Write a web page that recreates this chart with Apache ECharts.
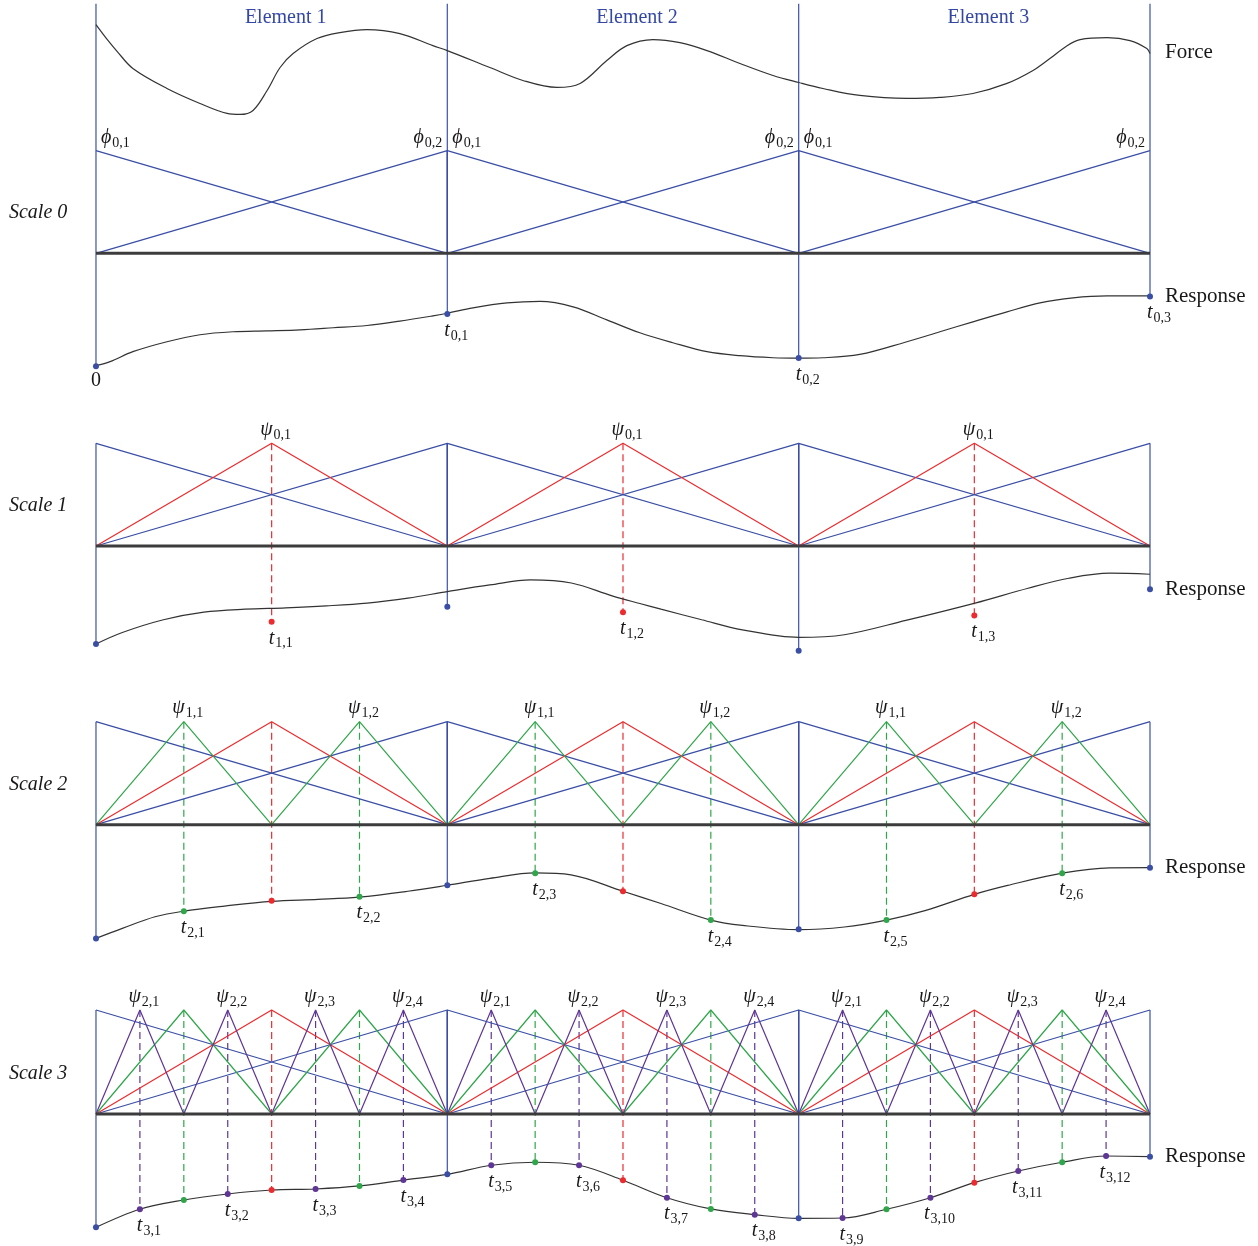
<!DOCTYPE html>
<html lang="en">
<head>
<meta charset="UTF-8">
<title>Scale elements</title>
<script src="https://cdn.jsdelivr.net/npm/echarts@6/dist/echarts.min.js"></script>
<style>
    html,body{margin:0;padding:0;background:#fff;}
    #chart{width:1258px;height:1246px;}
</style>
</head>
<body>
<div id="chart"></div>
<script>
// labels
var elements = ['Element 1', 'Element 2', 'Element 3'];
var scaleNames = ['Scale 0', 'Scale 1', 'Scale 2', 'Scale 3'];

// force curve above scale 0 (x in elements, y in hat heights)
var force = [[0,2.226],[0.03,2.09],[0.06,1.967],[0.105,1.8],[0.202,1.605],[0.296,1.459],[0.373,1.362],[0.41,1.352],
    [0.447,1.391],[0.487,1.585],[0.524,1.809],[0.561,1.945],[0.629,2.091],[0.694,2.149],[0.771,2.178],
    [0.865,2.139],[0.959,2.022],[1.0,1.974],[1.121,1.809],[1.215,1.683],[1.312,1.615],[1.378,1.654],
    [1.454,1.877],[1.511,2.022],[1.585,2.081],[1.662,2.051],[1.739,1.974],[1.833,1.848],[1.927,1.731],
    [2.0,1.663],[2.069,1.605],[2.174,1.537],[2.308,1.508],[2.402,1.518],[2.496,1.556],[2.593,1.654],
    [2.667,1.78],[2.715,1.896],[2.764,2.022],[2.801,2.081],[2.878,2.1],[2.943,2.071],[2.991,1.993],[3.0,1.945]];

// response curves (below each axis)
var response0 = [[0,-1.094],[0.04,-1.055],[0.105,-0.958],[0.202,-0.861],[0.296,-0.793],[0.39,-0.764],
    [0.487,-0.755],[0.581,-0.745],[0.675,-0.725],[0.771,-0.703],[0.865,-0.66],[0.959,-0.609],[1.0,-0.584],
    [1.073,-0.531],[1.17,-0.483],[1.264,-0.468],[1.358,-0.521],[1.454,-0.648],[1.548,-0.774],[1.642,-0.871],
    [1.739,-0.958],[1.833,-0.997],[1.927,-1.017],[2.0,-1.021],[2.069,-1.017],[2.174,-0.985],[2.308,-0.861],
    [2.402,-0.764],[2.496,-0.667],[2.593,-0.57],[2.687,-0.483],[2.781,-0.434],[2.878,-0.415],[3.0,-0.415]];
var response1 = [[0,-0.954],[0.075,-0.842],[0.192,-0.718],[0.307,-0.644],[0.424,-0.615],[0.54,-0.602],
    [0.656,-0.583],[0.772,-0.556],[0.888,-0.508],[1.0,-0.444],[1.121,-0.379],[1.237,-0.33],[1.353,-0.36],
    [1.469,-0.485],[1.548,-0.56],[1.608,-0.615],[1.724,-0.718],[1.84,-0.816],[2.0,-0.89],[2.13,-0.864],
    [2.305,-0.725],[2.502,-0.556],[2.653,-0.411],[2.769,-0.314],[2.886,-0.265],[3.0,-0.275]];
var response2 = [[0,-1.104],[0.075,-1.007],[0.168,-0.894],[0.25,-0.839],[0.366,-0.79],[0.5,-0.744],
    [0.632,-0.725],[0.748,-0.703],[0.888,-0.646],[1.0,-0.588],[1.121,-0.521],[1.25,-0.468],[1.352,-0.487],
    [1.5,-0.646],[1.608,-0.765],[1.75,-0.926],[1.84,-0.978],[2.0,-1.019],[2.13,-0.993],[2.25,-0.926],
    [2.362,-0.832],[2.5,-0.676],[2.595,-0.589],[2.754,-0.468],[2.886,-0.419],[3.0,-0.417]];

// sampled response points t (evenly spaced, 2^s per element)
var points0 = [-1.10, -0.59, -1.02, -0.42];
var points1 = [-0.954, -0.738, -0.592, -0.644, -1.02, -0.677, -0.42];
var points2 = [-1.104, -0.841, -0.738, -0.699, -0.588, -0.472, -0.646, -0.926, -1.016, -0.926, -0.676, -0.472, -0.417];
var points3 = [-1.09, -0.916, -0.827, -0.769, -0.731, -0.721, -0.692, -0.635, -0.58, -0.493, -0.464, -0.493, -0.637,
    -0.805, -0.913, -0.968, -1.003, -1.0, -0.916, -0.805, -0.66, -0.548, -0.464, -0.404, -0.41];

var samples = [points0, points1, points2, points3];
var curves = [response0, response1, response2, null];

// panel layout: axis pixel row, pixels per unit, y range
var panels = [
    {base: 253.3, unit: 102.7, ymin: -1.5, ymax: 2.45},
    {base: 546, unit: 102.7, ymin: -1.3, ymax: 1.4},
    {base: 824.7, unit: 103, ymin: -1.3, ymax: 1.4},
    {base: 1114, unit: 104, ymin: -1.25, ymax: 1.3}
];

var colors = ['#3a4ea6', '#ec2b2e', '#2fa64a', '#5f3595'];
var vColor = '#4a5fb2';
var ink = '#1a1718';
var serif = 'Liberation Serif';

var rich = {
    m: {fontFamily: serif, fontStyle: 'italic', fontSize: 20, color: ink},
    n: {fontFamily: serif, fontSize: 20, color: ink},
    s: {fontFamily: serif, fontSize: 14, color: ink, padding: [11, 0, 0, 1]}
};

var chart = echarts.init(document.getElementById('chart'), null, {renderer: 'canvas'});

var grids = [], xAxes = [], yAxes = [], series = [];
panels.forEach(function(p, i){
    grids.push({left: 0, right: 0, top: p.base - p.ymax * p.unit, height: (p.ymax - p.ymin) * p.unit});
    xAxes.push({gridIndex: i, type: 'value', min: -0.2732, max: 3.3074, show: false});
    yAxes.push({gridIndex: i, type: 'value', min: p.ymin, max: p.ymax, show: false});
});

function seg(p, pts, color, width, dashed, z, smooth){
    series.push({
        type: 'line', xAxisIndex: p, yAxisIndex: p, data: pts, symbol: 'none',
        silent: true, smooth: smooth || false, z: z || 2,
        lineStyle: {color: color, width: width, type: dashed ? [7, 4] : 'solid', opacity: 1}
    });
}

function levelOf(i, s){
    var n = Math.pow(2, s);
    if (i % n === 0) return 0;
    var tz = 0;
    while (i % 2 === 0) { i = i / 2; tz++; }
    return s - tz;
}

function buildPanel(s){
    var n = Math.pow(2, s), step = 1 / n, vals = samples[s];
    var upper = s === 0 ? 2.43 : 1;

    // element boundaries
    for (var e = 0; e <= 3; e++) seg(s, [[e, upper], [e, vals[e * n]]], vColor, 1.3, false, 3);

    // dashed drop lines from peaks
    for (var i = 0; i < vals.length; i++){
        var l = levelOf(i, s);
        if (l > 0) seg(s, [[i * step, 1], [i * step, vals[i]]], colors[l], 1.2, true, 2);
    }

    // response curve
    var c = curves[s] || vals.map(function(v, k){ return [k * step, v]; });
    seg(s, c, '#333', 1.2, false, 3, 0.35);
    if (s === 0) seg(0, force, '#333', 1.2, false, 3, 0.35);

    // hat functions
    seg(s, [[0,1],[1,0],[1,1],[2,0],[2,1],[3,0]], colors[0], 1.2, false, 4);
    seg(s, [[0,0],[1,1],[1,0],[2,1],[2,0],[3,1]], colors[0], 1.2, false, 4);
    for (var lv = 1; lv <= s; lv++){
        var h = 1 / Math.pow(2, lv), zig = [];
        for (var k = 0; k * h <= 3 + 1e-9; k++) zig.push([k * h, k % 2]);
        seg(s, zig, colors[lv], 1.2, false, 4 + lv);
    }

    // axis
    seg(s, [[0,0],[3,0]], '#3c3c3c', 3, false, 9);

    // sample points with labels
    var dots = [], cnt = 0;
    vals.forEach(function(v, i){
        var l = levelOf(i, s);
        var item = {value: [i * step, v], itemStyle: {color: colors[l], opacity: 1}};
        if (s === 0 || l === s){
            var txt;
            if (s === 0 && i === 0) txt = '{n|0}';
            else { cnt++; txt = '{m|t}{s|' + s + ',' + (s === 0 ? i : cnt) + '}'; }
            item.label = {show: true, position: 'bottom', distance: 1, opacity: 1,
                offset: (s === 0 && i === 0) ? [0, 0] : [9, 0], formatter: txt, rich: rich};
        }
        dots.push(item);
    });
    series.push({type: 'scatter', xAxisIndex: s, yAxisIndex: s, data: dots, symbolSize: 6, z: 12, silent: true,
        itemStyle: {opacity: 1}});

    // basis labels and captions
    var notes = [];
    if (s === 0){
        for (var e2 = 0; e2 < 3; e2++){
            notes.push({value: [e2, 1], label: {show: true, position: 'top', align: 'left', offset: [5, 0], distance: 0,
                formatter: '{m|\u03d5}{s|0,1}', rich: rich}});
            notes.push({value: [e2 + 1, 1], label: {show: true, position: 'top', align: 'right', offset: [-5, 0], distance: 0,
                formatter: '{m|\u03d5}{s|0,2}', rich: rich}});
            notes.push({value: [e2 + 0.54, 2.29], label: {show: true, position: 'inside',
                formatter: elements[e2], fontFamily: serif, fontSize: 20, color: '#3447a3'}});
        }
        notes.push({value: [3, 1.96], label: {show: true, position: 'right', distance: 15,
            formatter: 'Force', fontFamily: serif, fontSize: 21, color: ink}});
    } else {
        for (var j = 0; j < vals.length; j++){
            if (levelOf(j, s) === s){
                var idx = ((j % n) + 1) / 2;
                notes.push({value: [j * step, 1], label: {show: true, position: 'top', distance: 1, offset: [4, 0],
                    formatter: '{m|\u03c8}{s|' + (s - 1) + ',' + idx + '}', rich: rich}});
            }
        }
    }
    notes.push({value: [3, vals[vals.length - 1]], label: {show: true, position: 'right', distance: 15,
        formatter: 'Response', fontFamily: serif, fontSize: 21, color: ink}});
    notes.push({value: [-0.2476, 0.39], label: {show: true, position: 'right', distance: 0,
        formatter: scaleNames[s], fontFamily: serif, fontStyle: 'italic', fontSize: 20, color: ink}});
    series.push({type: 'scatter', xAxisIndex: s, yAxisIndex: s, data: notes, symbolSize: 0, z: 15, silent: true,
        itemStyle: {opacity: 1}, label: {opacity: 1}});
}

for (var si = 0; si < 4; si++) buildPanel(si);

chart.setOption({
    animation: false,
    backgroundColor: '#fff',
    grid: grids,
    xAxis: xAxes,
    yAxis: yAxes,
    series: series
});
</script>
</body>
</html>
